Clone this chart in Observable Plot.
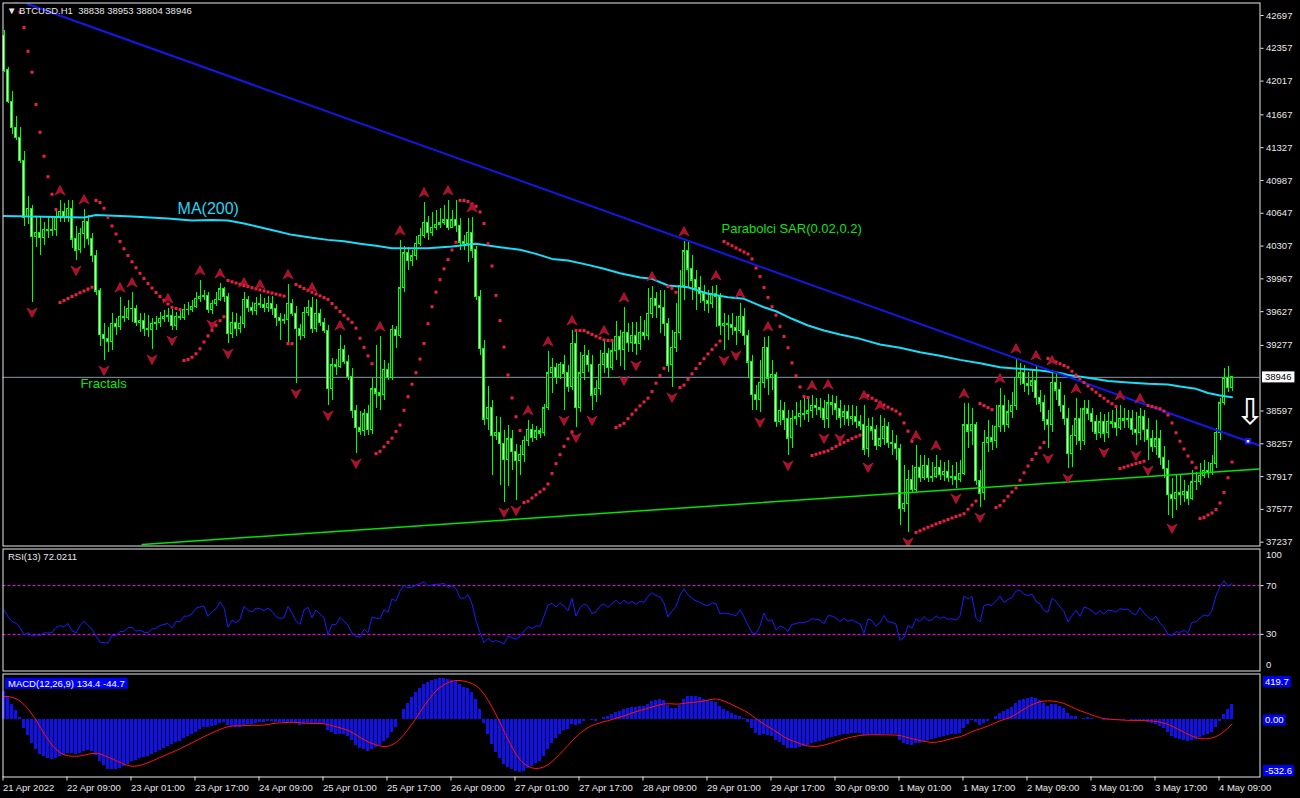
<!DOCTYPE html>
<html>
<head>
<meta charset="utf-8">
<script src="https://cdn.jsdelivr.net/npm/d3@7"></script>
<script src="https://cdn.jsdelivr.net/npm/@observablehq/plot@0.6"></script>
<style>
html, body { margin: 0; padding: 0; background: #000; }
#chart { width: 1300px; height: 798px; background: #000; overflow: hidden; }
#chart svg { display: block; }
</style>
</head>
<body>
<div id="chart"></div>
<script>
// ---------------- data ----------------
const symbolName = "BTCUSD.H1";
const firstOpen = 42489;
const closes = [
42127,41805,41535,41431,41193,40603,40696,40406,40447,40395,
40478,40468,40478,40613,40665,40613,40696,40375,40261,40437,
40561,40385,40209,39836,39390,39348,39317,39504,39472,39576,
39566,39659,39659,39514,39535,39452,39441,39504,39514,39555,
39576,39587,39483,39576,39566,39649,39649,39680,39761,39782,
39793,39649,39711,39752,39857,39782,39400,39514,39452,39504,
39752,39670,39638,39711,39701,39670,39711,39659,39566,39535,
39545,39711,39607,39452,39379,39618,39670,39452,39607,39514,
39431,38830,39069,39058,39234,39110,38954,38602,38426,38385,
38561,38405,38820,38779,38758,39027,38944,39441,39379,39867,
40230,40157,40199,40333,40416,40551,40447,40499,40530,40541,
40572,40499,40572,40520,40344,40333,40447,40261,39782,39244,
38509,38633,38343,38374,38260,38094,38302,38177,38083,38146,
38291,38405,38322,38385,38364,38623,38986,39048,38944,39079,
38986,38851,39296,38633,38986,39172,39079,38758,38830,39079,
39193,39048,39214,39369,39234,39410,39307,39379,39296,39410,
39379,39607,39763,39690,39670,39504,39069,39255,39410,39898,
40251,40064,39950,39867,39815,39742,39711,39815,39782,39483,
39504,39493,39462,39431,39576,39379,39100,38768,38716,38892,
39255,38934,38975,38488,38602,38509,38312,38519,38530,38571,
38561,38592,38654,38633,38613,38509,38675,38665,38613,38530,
38582,38519,38540,38488,38447,38198,38436,38395,38239,38302,
38436,38270,38260,38208,37586,37638,37886,37783,38011,37907,
38032,37907,37917,38011,37938,37969,37907,37917,37886,37949,
38447,38385,38457,37876,37742,38270,38312,38281,38436,38644,
38457,38582,38654,38944,38986,38882,38861,38903,38737,38675,
38499,38457,38892,38810,38654,38519,38156,38343,38509,38291,
38613,38571,38488,38364,38478,38364,38488,38468,38426,38519,
38499,38509,38405,38374,38530,38405,38302,38229,38302,38115,
38001,37731,37690,37752,37731,37762,37690,37856,37866,37928,
37980,37959,38052,38374,38675,38934,38838,38946];
const highs = [
42541,42157,41909,41650,41536,41287,40820,40727,40613,40603,
40551,40613,40613,40675,40779,40748,40779,40779,40509,40489,
40686,40624,40437,40261,39867,39504,39462,39607,39555,39773,
39680,39742,39825,39690,39607,39607,39587,39555,39576,39618,
39638,39659,39649,39618,39638,39701,39721,39742,39825,39950,
39846,39825,39742,39825,39919,39877,39815,39618,39607,39576,
39825,39784,39721,39773,39804,39763,39784,39784,39701,39607,
39597,39908,39752,39680,39493,39670,39742,39773,39752,39649,
39555,39483,39141,39131,39379,39276,39172,39037,38654,38592,
38613,38654,38934,39276,39369,39120,39089,39483,39472,40364,
40302,40292,40261,40406,40489,40758,40613,40655,40675,40696,
40727,40779,40675,40779,40593,40416,40593,40603,40302,39846,
39328,38851,38706,38540,38530,38395,38447,38395,38250,38239,
38333,38499,38457,38436,38416,38665,39214,39141,39089,39100,
39172,39069,39431,39431,39203,39276,39224,39172,38913,39224,
39328,39245,39307,39524,39431,39670,39504,39514,39514,39576,
39535,39867,39887,39825,39846,39846,39555,39431,39711,40053,
40354,40354,40209,40053,39991,39898,39846,39887,39898,39815,
39607,39587,39607,39576,39711,39659,39431,39172,38861,39120,
39359,39369,39120,38996,38706,38685,38602,38602,38685,38706,
38737,38727,38758,38727,38727,38706,38768,38758,38748,38706,
38654,38654,38654,38644,38551,38654,38519,38530,38447,38551,
38519,38478,38395,38343,38250,38032,37980,38032,38239,38136,
38136,38105,38063,38136,38083,38063,38083,38032,38063,38083,
38675,38675,38623,38480,37980,38395,38499,38447,38654,38830,
38758,38706,38789,39141,39089,39069,38996,39017,39069,38810,
38758,38602,39017,38996,38892,38758,38623,38447,38727,38623,
38706,38706,38623,38551,38582,38561,38582,38602,38623,38654,
38623,38602,38602,38582,38623,38602,38519,38395,38499,38395,
38229,38083,37897,37928,37928,37876,37824,37980,37959,38052,
38083,38063,38136,38416,38727,39037,39058,38953];
const lows = [
42106,41784,41463,41401,41162,40509,40530,39721,40292,40209,
40313,40385,40406,40406,40551,40551,40551,40282,40157,40230,
40282,40313,40136,39794,39265,39120,39203,39224,39379,39431,
39514,39535,39514,39472,39410,39369,39359,39234,39431,39462,
39514,39514,39431,39431,39535,39535,39587,39618,39659,39721,
39742,39607,39597,39680,39732,39721,39296,39348,39369,39400,
39452,39618,39587,39587,39659,39618,39618,39587,39472,39328,
39493,39296,39576,38882,39328,39348,39576,39400,39410,39472,
39400,38654,38706,38965,39037,39079,38913,38519,38156,38343,
38333,38343,38353,38623,38602,38706,38913,38913,39245,39348,
39825,40053,40095,40157,40302,40385,40364,40406,40468,40489,
40520,40468,40489,40447,40261,40261,40136,40178,39742,39172,
38447,38395,37928,38291,37824,37648,37814,37980,37669,37928,
38063,38229,38270,38291,38312,38333,38602,38779,38872,38920,
38602,38789,38810,38426,38582,38913,38996,38602,38685,38758,
38986,38934,39017,39120,39058,39017,39203,39203,39172,39224,
39328,39328,39555,39555,39400,39369,38996,38841,39203,39328,
39742,39877,39742,39638,39711,39628,39607,39659,39462,39379,
39224,39328,39379,39276,39400,39276,38934,38602,38602,38582,
38830,38758,38810,38426,38447,38395,38136,38208,38447,38426,
38499,38478,38519,38550,38519,38416,38416,38550,38499,38416,
38447,38436,38447,38416,38395,38136,38115,38291,38187,38219,
38239,38208,38136,38083,37410,37545,37338,37752,37752,37856,
37876,37856,37856,37897,37876,37866,37856,37824,37793,37856,
37928,38208,38239,37824,37596,37669,38167,38187,38208,38374,
38374,38416,38519,38602,38861,38789,38758,38789,38654,38582,
38395,38208,38374,38706,38582,38447,38001,38011,38239,38187,
38239,38499,38374,38291,38312,38270,38312,38416,38333,38395,
38416,38416,38343,38239,38291,38270,38083,38167,38136,38032,
37897,37514,37483,37566,37617,37648,37617,37669,37773,37824,
37897,37897,37928,38001,38291,38654,38789,38804];

// MA(200) (bar index, price)
const maIdx = [0,20,23,32,41,47,52,56,60,64,68,72,77,81,85,89,93,97,106,112,
118,124,129,133,137,141,146,150,154,159,162,166,171,176,181,185,190,193,197,201,
205,209,214,219,224,229,234,239,244,249,254,259,264,266,271,276,281,286,291,294,
298,301,304,307];
const maVal = [40618,40603,40629,40613,40592,40572,40577,40572,40540,40502,
40463,40423,40392,40371,40357,40330,40309,40284,40284,40302,
40330,40295,40268,40226,40174,40157,40112,40071,40025,39981,
39967,39898,39880,39812,39776,39760,39673,39631,39553,39483,
39431,39390,39345,39286,39252,39206,39169,39127,39092,39051,
39034,39017,38991,38970,38941,38908,38892,38879,38871,38851,
38827,38783,38758,38740];

// trend lines (bar index, price)
const resistIdx = [5.875, 313.875];
const resistPrice = [42816, 38239];
const anchorIdx = [311];
const anchorPrice = [38283];
const supportIdx = [34.55, 313.875];
const supportPrice = [37213, 37996];

// axes and labels
const priceDomain = [37237, 42697];
const priceTicks = [42697,42357,42017,41667,41327,40987,40647,40307,39967,39627,39277,38597,38257,37917,37577,37237];
const lastPrice = 38946;
const timeIdx = [0,16,32,48,64,80,96,112,128,144,160,176,192,208,224,240,256,272,288,304];
const timeLabels = ["21 Apr 2022","22 Apr 09:00","23 Apr 01:00","23 Apr 17:00","24 Apr 09:00","25 Apr 01:00",
"25 Apr 17:00","26 Apr 09:00","27 Apr 01:00","27 Apr 17:00","28 Apr 09:00","29 Apr 01:00","29 Apr 17:00",
"30 Apr 09:00","1 May 01:00","1 May 17:00","2 May 09:00","3 May 01:00","3 May 17:00","4 May 09:00"];
const rsiLevels = [70, 30];
const rsiLabel = "RSI(13) 72.0211";
const macdLabel = "MACD(12,26,9) 134.4 -44.7";
const macdDomain = [-532.6, 419.7];
const macdAxis = ["419.7", "0.00", "-532.6"];
const macdAxisVal = [419.7, 0, -532.6];
const maText = ["MA(200)"];
const sarText = ["Parabolci SAR(0.02,0.2)"];
const fractalText = ["Fractals"];

// indicator settings / seeds (state before the first visible bar)
const sarStep = 0.02, sarMax = 0.2, sarSeed = 43000;
const rsiPeriod = 13, rsiSeedGain = 120, rsiSeedLoss = 90;
const ema12Seed = 42200, ema26Seed = 41920, signalSeed = 207;

// ---------------- derived series ----------------
const n = closes.length;
const candles = closes.map((c, i) => ({i, open: i === 0 ? firstOpen : closes[i - 1], high: highs[i], low: lows[i], close: c}));
const maData = maIdx.map((i, k) => ({i, v: maVal[k]}));
const resistData = resistIdx.map((i, k) => ({i, p: resistPrice[k]}));
const supportData = supportIdx.map((i, k) => ({i, p: supportPrice[k]}));
const anchorData = anchorIdx.map((i, k) => ({i, p: anchorPrice[k]}));

// Bill Williams fractals
const upFr = [], dnFr = [];
for (let i = 2; i < n - 2; i++) {
  if (highs[i] > highs[i-1] && highs[i] > highs[i-2] && highs[i] >= highs[i+1] && highs[i] >= highs[i+2]) upFr.push(candles[i]);
  if (lows[i] < lows[i-1] && lows[i] < lows[i-2] && lows[i] <= lows[i+1] && lows[i] <= lows[i+2]) dnFr.push(candles[i]);
}

// Parabolic SAR
const sarData = [];
{
  let up = false, af = sarStep, ep = lows[0], sar = sarSeed;
  for (let i = 0; i < n; i++) {
    if (i > 0) {
      sar = sar + af * (ep - sar);
      if (up) {
        sar = Math.min(sar, lows[i-1], lows[Math.max(0, i-2)]);
        if (lows[i] < sar) { up = false; sar = ep; ep = lows[i]; af = sarStep; }
        else if (highs[i] > ep) { ep = highs[i]; af = Math.min(af + sarStep, sarMax); }
      } else {
        sar = Math.max(sar, highs[i-1], highs[Math.max(0, i-2)]);
        if (highs[i] > sar) { up = true; sar = ep; ep = highs[i]; af = sarStep; }
        else if (lows[i] < ep) { ep = lows[i]; af = Math.min(af + sarStep, sarMax); }
      }
    }
    sarData.push({i, sar});
  }
}

// RSI(13)
const rsiData = [];
{
  let ag = rsiSeedGain, al = rsiSeedLoss;
  for (let i = 0; i < n; i++) {
    const d = closes[i] - (i === 0 ? firstOpen : closes[i-1]);
    ag = (ag * (rsiPeriod - 1) + Math.max(d, 0)) / rsiPeriod;
    al = (al * (rsiPeriod - 1) + Math.max(-d, 0)) / rsiPeriod;
    rsiData.push({i, r: 100 - 100 / (1 + ag / al)});
  }
}

// MACD(12,26,9): main = EMA12-EMA26, signal = SMA9 of main
const macdData = [];
{
  let e12 = ema12Seed, e26 = ema26Seed; const m = [];
  for (let i = 0; i < n; i++) {
    e12 += (2 / 13) * (closes[i] - e12);
    e26 += (2 / 27) * (closes[i] - e26);
    m.push(e12 - e26);
  }
  for (let i = 0; i < n; i++) {
    let s = 0;
    for (let k = i - 8; k <= i; k++) s += k < 0 ? signalSeed : m[k];
    macdData.push({i, m: m[i], s: s / 9});
  }
}

// ---------------- drawing ----------------
const font = "Liberation Sans, Arial, Helvetica, sans-serif";
const W = 1300;
const xDomain = [-0.25, 314];
const style = {background: "#000", color: "#e8e8e8", fontFamily: font, fontSize: "9.5px", overflow: "visible"};
const frameColor = "#e8e8e8";
const lime = "#00ff00";
const arrowUp = {draw(ctx) { ctx.moveTo(0, -5); ctx.lineTo(5, 4.5); ctx.lineTo(0, 1.5); ctx.lineTo(-5, 4.5); ctx.closePath(); }};
const arrowDown = {draw(ctx) { ctx.moveTo(0, 5); ctx.lineTo(5, -4.5); ctx.lineTo(0, -1.5); ctx.lineTo(-5, -4.5); ctx.closePath(); }};
const last = candles[n - 1];
const headerText = [`\u25BC ${symbolName}  ${last.open} ${last.high} ${last.low} ${last.close}`];

// marker colours used to find label texts that get a background box
const CUR_TEXT = "#010101", MACDBOX_TEXT = "#fffffe", MACDLBL_TEXT = "#fefefe";

const main = Plot.plot({
  width: W, height: 547,
  marginLeft: 2.5, marginRight: 40.5, marginTop: 2.5, marginBottom: 1.5,
  style,
  x: {domain: xDomain, range: [2.5, 1259.5], axis: null},
  y: {domain: priceDomain, range: [541.7, 15], axis: null},
  marks: [
    Plot.ruleY([lastPrice], {stroke: "#8898a8", strokeWidth: 1}),
    Plot.ruleX(candles, {x: "i", y1: "low", y2: "high", stroke: lime, strokeWidth: 1, clip: true, shapeRendering: "crispEdges"}),
    Plot.rect(candles, {x1: d => d.i - 0.25, x2: d => d.i + 0.25, y1: "open", y2: "close",
      fill: d => d.close < d.open ? "#ffffff" : "#000000", stroke: lime, strokeWidth: 1, clip: true, shapeRendering: "crispEdges"}),
    Plot.ruleY(candles, {x1: d => d.i - 0.375, x2: d => d.i + 0.375, y: "close", stroke: lime, strokeWidth: 1, clip: true, shapeRendering: "crispEdges"}),
    Plot.line(maData, {x: "i", y: "v", stroke: "#18dcf8", strokeWidth: 2, clip: true}),
    Plot.line(supportData, {x: "i", y: "p", stroke: "#00e400", strokeWidth: 1.5, clip: true}),
    Plot.line(resistData, {x: "i", y: "p", stroke: "#1616e8", strokeWidth: 2, clip: true}),
    Plot.dot(sarData, {x: "i", y: "sar", symbol: "square", r: 1.7, fill: "#ec2040", stroke: "none", clip: true}),
    Plot.dot(upFr, {x: "i", y: "high", symbol: arrowUp, fill: "#a8102c", stroke: "#d81f3e", strokeWidth: 0.6, dy: -10, clip: true}),
    Plot.dot(dnFr, {x: "i", y: "low", symbol: arrowDown, fill: "#a8102c", stroke: "#d81f3e", strokeWidth: 0.6, dy: 10, clip: true}),
    Plot.dot(anchorData, {x: "i", y: "p", symbol: "square", r: 2.6, fill: "#ffffff", stroke: "#1616e8", strokeWidth: 2}),
    Plot.text(["\u21E9"], {x: 311.5, y: 38580, fill: "#ffffff", fontSize: 36, fontFamily: "DejaVu Sans"}),
    Plot.text(maText, {x: 43.4, y: 40696, textAnchor: "start", fill: "#22d6f6", fontSize: 16, fontFamily: font}),
    Plot.text(sarText, {x: 179.4, y: 40483, textAnchor: "start", fill: "#14e014", fontSize: 13, fontFamily: font}),
    Plot.text(fractalText, {x: 19.1, y: 38882, textAnchor: "start", fill: "#14e014", fontSize: 13, fontFamily: font}),
    Plot.text(headerText, {frameAnchor: "top-left", dx: 4, dy: 4, fill: "#e8e8e8", fontSize: 9.5, fontFamily: font}),
    Plot.frame({stroke: frameColor}),
    Plot.axisY(priceTicks, {anchor: "right", tickSize: 3, tickPadding: 3, tickFormat: d => String(d), label: null, fontSize: 9.5}),
    Plot.text([lastPrice], {y: d => d, text: d => String(d), frameAnchor: "right", dx: 5, textAnchor: "start", fill: CUR_TEXT, fontSize: 9.5, fontFamily: font})
  ]
});

const rsiPlot = Plot.plot({
  width: W, height: 125,
  marginLeft: 2.5, marginRight: 40.5, marginTop: 1.5, marginBottom: 1.5,
  style,
  x: {domain: xDomain, range: [2.5, 1259.5], axis: null},
  y: {domain: [0, 100], range: [123.5, 1.5], axis: null},
  marks: [
    Plot.ruleY(rsiLevels, {stroke: "#ff00ff", strokeWidth: 1, strokeDasharray: "3,2"}),
    Plot.line(rsiData, {x: "i", y: "r", stroke: "#1c1cff", strokeWidth: 1}),
    Plot.text([rsiLabel], {frameAnchor: "top-left", dx: 5, dy: 4, fill: "#e8e8e8", fontSize: 9.5, fontFamily: font}),
    Plot.frame({stroke: frameColor}),
    Plot.axisY(rsiLevels, {anchor: "right", tickSize: 3, tickPadding: 3, label: null, fontSize: 9.5}),
    Plot.axisY([100], {anchor: "right", tickSize: 0, tickPadding: 6, dy: 5.5, label: null, fontSize: 9.5}),
    Plot.axisY([0], {anchor: "right", tickSize: 0, tickPadding: 6, dy: -6.5, label: null, fontSize: 9.5})
  ]
});

const macdPlot = Plot.plot({
  width: W, height: 126,
  marginLeft: 2.5, marginRight: 40.5, marginTop: 1.5, marginBottom: 21.5,
  style,
  x: {domain: xDomain, range: [2.5, 1259.5], axis: null},
  y: {domain: macdDomain, range: [104.5, 1.5], axis: null},
  marks: [
    Plot.rect(macdData, {x1: d => d.i - 0.375, x2: d => d.i + 0.375, y1: 0, y2: "m", fill: "#1010f0", shapeRendering: "crispEdges"}),
    Plot.line(macdData, {x: "i", y: "s", stroke: "#ff1010", strokeWidth: 1}),
    Plot.text([macdLabel], {frameAnchor: "top-left", dx: 5, dy: 6, fill: MACDLBL_TEXT, fontSize: 9.5, fontFamily: font}),
    Plot.frame({stroke: frameColor}),
    Plot.text([macdAxis[0]], {y: macdAxisVal[0], frameAnchor: "right", dx: 5, dy: 8, textAnchor: "start", fill: MACDBOX_TEXT, fontSize: 9.5, fontFamily: font}),
    Plot.text([macdAxis[1]], {y: macdAxisVal[1], frameAnchor: "right", dx: 5, dy: 1, textAnchor: "start", fill: MACDBOX_TEXT, fontSize: 9.5, fontFamily: font}),
    Plot.text([macdAxis[2]], {y: macdAxisVal[2], frameAnchor: "right", dx: 5, dy: -6, textAnchor: "start", fill: MACDBOX_TEXT, fontSize: 9.5, fontFamily: font}),
    Plot.axisX(timeIdx, {anchor: "bottom", tickSize: 4, tickPadding: 3, textAnchor: "start", dx: -1, label: null, fontSize: 9.5,
      tickFormat: d => timeLabels[timeIdx.indexOf(d)]})
  ]
});

const root = document.getElementById("chart");
[main, rsiPlot, macdPlot].forEach(p => root.appendChild(p));

function boxify(svg, textFill, fill, padX, padY) {
  const texts = [];
  svg.querySelectorAll("text").forEach(t => {
    const f = (t.getAttribute("fill") || (t.parentNode && t.parentNode.getAttribute && t.parentNode.getAttribute("fill")) || "").toLowerCase();
    if (f === textFill) texts.push(t);
  });
  texts.forEach(t => {
    const b = t.getBBox();
    const r = document.createElementNS("http://www.w3.org/2000/svg", "rect");
    r.setAttribute("x", b.x - padX);
    r.setAttribute("y", b.y - padY);
    r.setAttribute("width", b.width + 2 * padX);
    r.setAttribute("height", b.height + 2 * padY);
    r.setAttribute("fill", fill);
    r.setAttribute("stroke", "none");
    const tr = t.getAttribute("transform");
    if (tr) r.setAttribute("transform", tr);
    t.parentNode.insertBefore(r, t);
  });
}
boxify(main, CUR_TEXT, "#ffffff", 3, 0);
boxify(macdPlot, MACDBOX_TEXT, "#0000f0", 2, 0);
boxify(macdPlot, MACDLBL_TEXT, "#0000f0", 3, 0);
</script>
</body>
</html>
